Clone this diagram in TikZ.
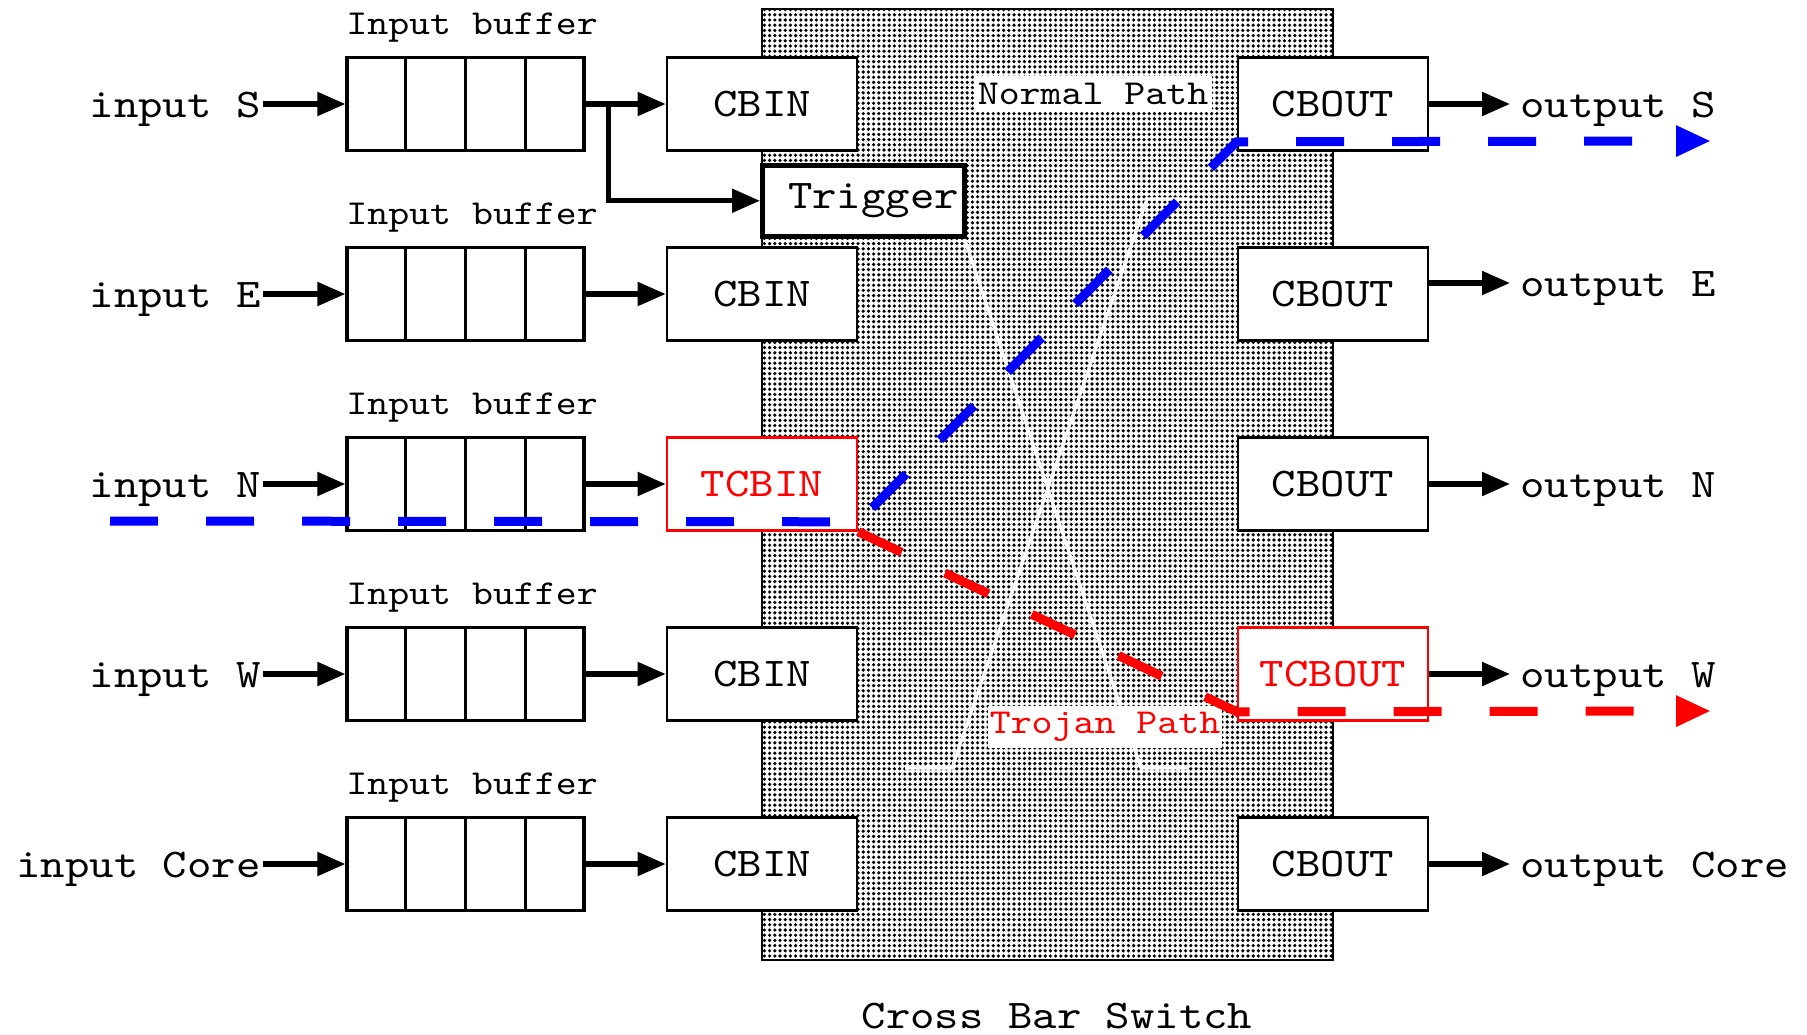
\documentclass[tikz,border=0pt]{standalone}
\usepackage{fontspec}
\newfontfamily\courfont[FakeStretch=1.14]{lmmono10-regular.otf}
\usetikzlibrary{arrows.meta,patterns.meta,calc}
\begin{document}
\begin{tikzpicture}[x=0.5pt,y=-0.5pt,
  big/.style={font=\courfont\fontsize{20.4pt}{24pt}\selectfont},
  small/.style={font=\courfont\fontsize{17.5pt}{21pt}\selectfont},
  bufbox/.style={draw, line width=1.6pt, minimum width=118.5pt, minimum height=46.5pt, inner sep=0pt},
  cbbox/.style={draw, fill=white, line width=1.3pt, minimum width=95pt, minimum height=46.5pt, inner sep=0pt, big},
  arr/.style={line width=2.6pt, -{Triangle[length=14pt,width=11.5pt]}},
  path/.style={line width=4.5pt, dash pattern=on 24pt off 24pt, -{Triangle[length=17.5pt,width=14.5pt]}},
  wline/.style={white, line width=1.6pt},
]
\useasboundingbox (0,0) rectangle (1807,1034);

% cross bar switch
\node[draw, line width=1.2pt, pattern={Dots[distance=2.6pt,radius=0.9pt]}, minimum width=285.5pt, minimum height=475.5pt, inner sep=0pt] (xbar) at (1047.5,484.5) {};
\node[big, inner sep=0pt] (xlabel) at (1057,1016) {Cross Bar Switch};

% white crossing lines
\draw[wline] (965,240) -- (1141,768) -- (1187,768);
\draw[wline] (1187,199) -- (1147,199) -- (952,768) -- (905,768);

\node[small, fill=white, inner xsep=2pt, inner ysep=3.5pt] (normal) at (1093,94) {Normal Path};
\node[small, fill=white, text=red, inner xsep=1pt, inner ysep=3pt] (trojan) at (1105,727) {Trojan Path};

% rows
\foreach \n/\y/\lab/\cin/\cout/\cic/\coc/\oy in
  {S/104/S/CBIN/CBOUT/black/black/0,
   E/294/E/CBIN/CBOUT/black/black/-11,
   N/484/N/TCBIN/CBOUT/red/black/0,
   W/674/W/CBIN/TCBOUT/black/red/0,
   C/864/Core/CBIN/CBOUT/black/black/0}{
  \node[bufbox] (buf\n) at (465.5,\y) {};
  \draw[line width=1.2pt] ($(buf\n.north west)!0.25!(buf\n.north east)$) -- ($(buf\n.south west)!0.25!(buf\n.south east)$);
  \draw[line width=1.2pt] ($(buf\n.north west)!0.5!(buf\n.north east)$) -- ($(buf\n.south west)!0.5!(buf\n.south east)$);
  \draw[line width=1.2pt] ($(buf\n.north west)!0.75!(buf\n.north east)$) -- ($(buf\n.south west)!0.75!(buf\n.south east)$);
  \node[small, anchor=base west, inner sep=0pt] (lbl\n) at (346,\y-70) {Input buffer};
  \node[cbbox, draw=\cic, text=\cic] (cbin\n) at (762,\y) {\cin};
  \node[cbbox, draw=\coc, text=\coc] (cbout\n) at (1333,\y) {\cout};
  \node[big, anchor=base east, inner xsep=1pt, inner ysep=0pt] (in\n) at (263,\y+13) {input \lab};
  \node[big, anchor=base west, inner xsep=4pt, inner ysep=0pt] (out\n) at (1512,\y+13+\oy) {output \lab};
  \draw[arr] (in\n.east |- buf\n.west) -- (buf\n.west);
  \draw[arr] (buf\n.east) -- (cbin\n.west);
  \draw[arr] ($(cbout\n.east)+(0,\oy)$) -- ($(out\n.west |- cbout\n.east)+(-2,\oy)$);
}

% trigger
\node[draw, fill=white, line width=2.5pt, minimum width=101pt, minimum height=35.25pt, inner sep=0pt, big] (trig) at (863.5,200.75) {\hspace*{10pt}Trigger};
\coordinate (branch) at ($(bufS.east)+(23,0)$);
\draw[arr] (branch) |- (trig.west);

% normal (blue) and trojan (red) paths
\coordinate (bstart) at (110,521);
\coordinate (bend) at (1711,141);
\coordinate (rend) at (1711,711);
\draw[path, blue] (bstart) -- ($(cbinN.south east)+(0,-10)$) -- ($(cboutS.south west)+(0,-10)$) -- (bend);
\draw[path, red] (cbinN.south east) -- ($(cboutW.south west)+(0,-10)$) -- (rend);
\end{tikzpicture}
\end{document}
